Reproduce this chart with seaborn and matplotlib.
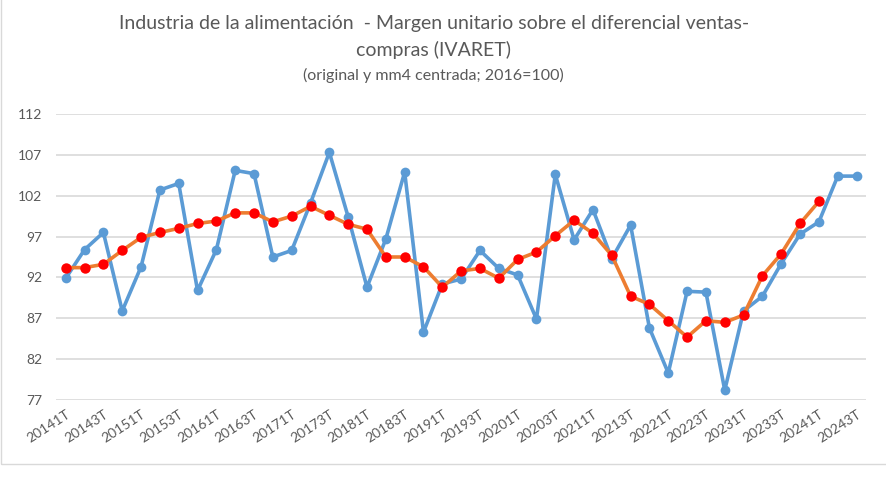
import seaborn as sns
import pandas as pd
import matplotlib.pyplot as plt
from matplotlib.patches import Rectangle

# trimestres 2014T1 - 2024T3
periodos = [f"{a}{t}T" for a in range(2014, 2025) for t in range(1, 5)][:43]

# serie original (IVARET)
original = [91.9, 95.4, 97.5, 87.9, 93.3, 102.7, 103.5, 90.4, 95.4, 105.1,
            104.7, 94.5, 95.3, 101.1, 107.3, 99.4, 90.8, 96.7, 104.9, 85.3,
            91.2, 91.8, 95.3, 93.1, 92.3, 86.9, 104.6, 96.6, 100.3, 94.3,
            98.4, 85.8, 80.3, 90.3, 90.2, 78.2, 87.9, 89.7, 93.7, 97.3,
            98.8, 104.4, 104.4]

# media movil 4 trimestres centrada
mm4 = [93.2, 93.2, 93.6, 95.3, 96.9, 97.5, 98.0, 98.6, 98.9, 99.9,
       99.9, 98.8, 99.5, 100.7, 99.6, 98.5, 97.9, 94.5, 94.5, 93.3,
       90.8, 92.8, 93.1, 91.9, 94.2, 95.1, 97.1, 99.0, 97.4, 94.7,
       89.7, 88.7, 86.7, 84.7, 86.7, 86.5, 87.4, 92.2, 94.9, 98.6,
       101.3]

df = pd.DataFrame({"periodo": periodos, "original": original,
                   "mm4": mm4 + [None] * (len(periodos) - len(mm4))})
df["i"] = range(len(df))

sns.set_style("white")
plt.rcParams['font.family'] = ['Lato', 'DejaVu Sans']
gris = "#595959"

fig = plt.figure(figsize=(8.87, 4.78), dpi=100)
ax = fig.add_axes([0.0635, 0.1632, 0.9128, 0.5983])

sns.lineplot(data=df, x="i", y="original", ax=ax, color="#5B9BD5", lw=2.6,
             marker="o", ms=7, markeredgewidth=0, markerfacecolor="#5B9BD5")
sns.lineplot(data=df.dropna(), x="i", y="mm4", ax=ax, color="#ED7D31", lw=2.6,
             marker="o", ms=7.5, markeredgewidth=0, markerfacecolor="#FF0000")

ax.set_xlim(-0.5, len(df) - 0.5)
ax.set_ylim(77, 112)
ax.set_yticks(range(77, 113, 5))
ax.set_xticks(df["i"][::2])
ax.set_xticklabels(df["periodo"][::2], rotation=33, ha="right",
                   rotation_mode="anchor")
ax.tick_params(axis="both", colors=gris, labelsize=10, length=0)
ax.tick_params(axis="x", pad=6)
ax.tick_params(axis="y", pad=10)
ax.grid(axis="y", color="#D9D9D9", lw=1.2)
ax.set_axisbelow(True)
for s in ax.spines.values():
    s.set_visible(False)
ax.set_xlabel("")
ax.set_ylabel("")

fig.text(0.489, 0.951, "Industria de la alimentación  - Margen unitario sobre el diferencial ventas-",
         ha="center", va="center", fontsize=14, color=gris)
fig.text(0.489, 0.896, "compras (IVARET)", ha="center", va="center",
         fontsize=14, color=gris)
fig.text(0.489, 0.843, "(original y mm4 centrada; 2016=100)", ha="center",
         va="center", fontsize=11.5, color=gris)

# marco del grafico
fig.patches.append(Rectangle((0.001, 1 - 464 / 478), 1.2, 1.2,
                             transform=fig.transFigure, fill=False,
                             edgecolor="#D9D9D9", lw=1))

fig.savefig("out.png", dpi=100)
